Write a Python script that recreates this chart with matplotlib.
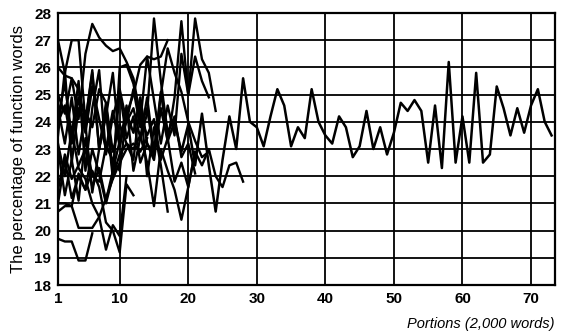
import numpy as np
import matplotlib
matplotlib.use('Agg')
import matplotlib.pyplot as plt

# long series, portions 1..73
long_series = [24.0, 24.6, 23.2, 24.9, 23.6, 25.3, 24.1, 23.0, 24.4, 23.1,
               24.3, 23.6, 24.9, 23.2, 22.6, 24.5, 23.3, 24.0, 22.9, 23.9,
               22.4, 24.3, 22.4, 20.7, 22.6, 24.2, 23.0,
               25.6, 24.0, 23.8, 23.1, 24.2, 25.2, 24.6, 23.1, 23.8, 23.4,
               25.2, 24.0, 23.5, 23.2, 24.2, 23.8, 22.7, 23.1, 24.4, 23.0,
               23.8, 22.8, 23.6, 24.7, 24.4, 24.8, 24.4, 22.5, 24.6, 22.3,
               26.2, 22.5, 24.2, 22.5, 25.8, 22.5, 22.8, 25.3, 24.5, 23.5,
               24.5, 23.6, 24.6, 25.2, 24.0, 23.5]

# shorter series, all starting at portion 1
short_series = [
    [25.0, 24.3, 25.6, 24.1, 26.5, 27.6, 27.1, 26.8, 26.6, 26.7, 26.2, 25.6, 24.2, 23.5,
     24.1, 22.6, 23.4, 21.8, 22.5, 21.6, 22.9, 22.4, 23.0, 22.0, 21.6, 22.4, 22.5, 21.8],
    [26.0, 25.7, 25.6, 25.2, 24.0, 25.8, 23.0, 24.4, 21.9, 26.0, 26.1, 25.4, 24.0, 26.4,
     24.8, 23.2, 24.6, 23.5, 26.5, 25.0, 27.8, 26.3, 25.8, 24.4],
    [23.5, 25.9, 22.5, 24.5, 23.9, 21.4, 23.0, 24.2, 25.8, 23.1, 24.6, 22.2, 23.4, 24.9,
     22.9, 25.1, 23.3, 24.9, 27.7, 25.0, 26.4, 25.5, 24.9],
    [21.5, 22.8, 21.9, 22.4, 23.0, 21.6, 22.3, 21.1, 22.2, 23.3, 24.0, 24.5, 23.4, 24.3,
     27.8, 25.5, 23.6, 24.2, 22.7, 23.2, 22.1],
    [21.0, 22.6, 21.2, 22.0, 21.5, 23.0, 22.1, 21.0, 22.0, 22.8, 23.2, 23.0, 23.5, 22.5,
     20.9, 23.0, 22.2, 21.5, 20.4, 21.6, 22.9],
    [23.0, 21.3, 22.6, 21.1, 23.4, 22.0, 21.8, 23.1, 22.6, 22.2, 24.3, 25.0, 26.1, 26.4,
     26.3, 26.4, 27.0],
    [24.5, 23.2, 24.9, 22.8, 24.4, 23.8, 25.2, 24.7, 22.9, 23.9, 23.2, 22.6, 24.7, 22.0,
     23.8, 22.4, 20.7],
    [21.0, 21.0, 20.9, 22.1, 21.5, 22.2, 21.6, 20.3, 20.0, 19.2, 21.7, 21.3],
    [23.2, 22.0, 23.7, 22.3, 21.9, 21.0, 20.5, 19.3, 20.2, 19.8, 22.0],
    [20.7, 20.9, 20.9, 20.1, 20.1, 20.1, 20.5, 21.2, 21.9, 22.5, 23.0, 23.2, 22.9, 23.4],
    [19.7, 19.6, 19.6, 18.9, 18.9, 19.9],
    [24.2, 25.4, 23.5, 25.5, 22.2, 24.5, 25.9, 22.8, 24.2, 25.1, 23.4, 24.2, 22.5, 23.2,
     22.8, 25.0, 26.7, 25.8, 25.1, 24.0, 23.3, 22.7, 22.9],
    [27.0, 25.8, 27.0, 27.0, 24.0, 25.9, 23.0, 24.7, 22.1, 25.2, 24.0, 25.2, 23.8, 24.5,
     22.8],
]

x_ticks = [1, 10, 20, 30, 40, 50, 60, 70]
y_ticks = list(range(18, 29))

plt.rcParams['font.family'] = ['Liberation Sans', 'DejaVu Sans']

fig = plt.figure(figsize=(5.61, 3.34), dpi=100)
ax = fig.add_axes([0.1034, 0.1467, 0.8859, 0.8143])

for s in short_series:
    ax.plot(np.arange(1, len(s) + 1), s, color='black', linewidth=1.7)
ax.plot(np.arange(1, len(long_series) + 1), long_series, color='black', linewidth=1.8)

ax.set_xlim(1, 73.5)
ax.set_ylim(18, 28)
ax.set_xticks(x_ticks)
ax.set_yticks(y_ticks)
ax.tick_params(axis='both', length=0, pad=5, labelsize=11)
for lab in ax.get_xticklabels() + ax.get_yticklabels():
    lab.set_fontweight('bold')
ax.grid(True, color='black', linewidth=1.3)
ax.set_axisbelow(True)
for sp in ax.spines.values():
    sp.set_linewidth(1.6)

ax.set_ylabel('The percentage of function words', fontsize=12, labelpad=6)
fig.text(0.989, 0.008, 'Portions (2,000 words)', ha='right', va='bottom',
         fontsize=10.5, style='italic')

plt.savefig('out.png', dpi=100)
